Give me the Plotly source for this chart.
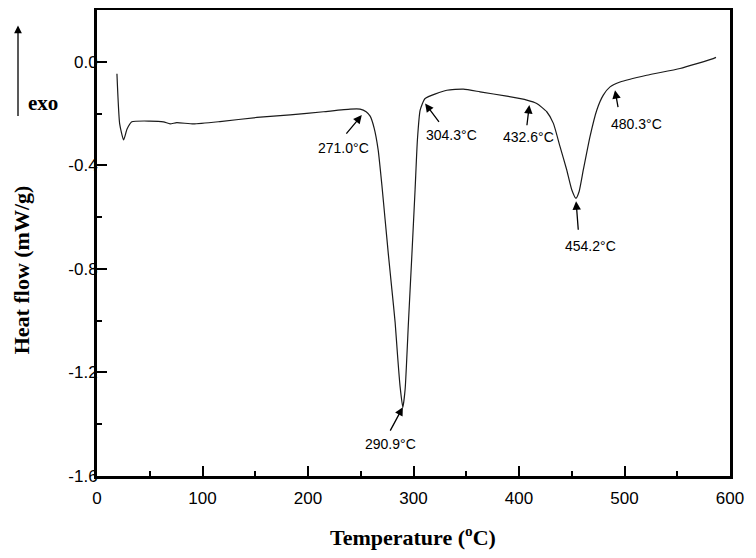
import plotly.graph_objects as go

# DSC curve: temperature (°C) and heat flow (mW/g)
temperature = [18.9, 21.5, 25.2, 28.5, 33.0, 50.0, 63.0, 69.3, 75.6, 91.5, 116.5, 151.6, 183.1,
               214.7, 240.0, 249.4, 255.1, 258.9, 262.7, 266.5, 270.0, 273.1, 276.2, 279.5,
               282.6, 284.8, 287.3, 289.9, 292.1, 295.2, 298.4, 301.5, 303.7, 306.3, 311.0,
               331.6, 347.3, 363.1, 388.4, 407.4, 416.8, 426.3, 432.6, 438.9, 445.2, 450.0,
               454.0, 457.0, 461.0, 467.3, 473.7, 479.9, 486.3, 495.8, 521.0, 552.6, 584.1,
               586.7]
heat_flow = [-0.046, -0.240, -0.302, -0.260, -0.232, -0.229, -0.232, -0.240, -0.235, -0.240,
             -0.231, -0.215, -0.205, -0.193, -0.183, -0.183, -0.193, -0.210, -0.256, -0.340,
             -0.475, -0.610, -0.745, -0.879, -1.007, -1.130, -1.255, -1.335, -1.263, -1.007,
             -0.751, -0.494, -0.302, -0.187, -0.142, -0.110, -0.106, -0.116, -0.133, -0.148,
             -0.161, -0.193, -0.238, -0.328, -0.417, -0.494, -0.527, -0.501, -0.417, -0.289,
             -0.187, -0.129, -0.097, -0.078, -0.052, -0.026, 0.012, 0.017]

# Peak / onset labels: arrow tip (x, y) and label position (x, y)
label_texts = ["271.0°C", "304.3°C", "432.6°C", "454.2°C", "480.3°C", "290.9°C"]
tip_x = [251.0, 311.0, 409.8, 454.1, 491.0, 289.9]
tip_y = [-0.206, -0.161, -0.167, -0.539, -0.110, -1.334]
text_x = [233.3, 336.3, 408.9, 468.0, 511.6, 277.9]
text_y = [-0.333, -0.283, -0.292, -0.712, -0.240, -1.475]
tail_dx = [-16.7, 15.0, -2.6, 2.3, 3.3, -13.4]
tail_dy = [20.0, 20.0, 21.7, 30.0, 18.3, 25.0]

x_tickvals = [0, 100, 200, 300, 400, 500, 600]
y_tickvals = [0.0, -0.4, -0.8, -1.2, -1.6]
y_ticktext = ["0.0", "-0.4", "-0.8", "-1.2", "-1.6"]

fig = go.Figure()
fig.add_trace(go.Scatter(x=temperature, y=heat_flow, mode="lines",
                         line=dict(color="#1a1a1a", width=1.2, shape="spline", smoothing=0.5),
                         showlegend=False, hoverinfo="skip"))

annotations = []
for t, tx, ty, lx, ly, dx, dy in zip(label_texts, tip_x, tip_y, text_x, text_y, tail_dx, tail_dy):
    annotations.append(dict(x=tx, y=ty, xref="x", yref="y", text="", showarrow=True,
                            ax=dx, ay=dy, arrowhead=2, arrowsize=1.3, arrowwidth=1.3,
                            arrowcolor="black", standoff=0, startstandoff=0))
    annotations.append(dict(x=lx, y=ly, xref="x", yref="y", text=t, showarrow=False,
                            font=dict(family="Liberation Sans, Arial", size=14, color="black")))

serif = "Liberation Serif, Times New Roman"
# exo arrow and label
annotations.append(dict(x=-0.1248, y=0.967, xref="paper", yref="paper", text="", showarrow=True,
                        ax=0, ay=92, arrowhead=2, arrowsize=1.2, arrowwidth=1.3, arrowcolor="black"))
annotations.append(dict(x=-0.112, y=0.80, xref="paper", yref="paper", text="<b>exo</b>",
                        showarrow=False, xanchor="left", yanchor="middle",
                        font=dict(family=serif, size=21, color="black")))
# axis titles
annotations.append(dict(x=0.499, y=-0.1286, xref="paper", yref="paper",
                        text="<b>Temperature (<sup>o</sup>C)</b>", showarrow=False,
                        xanchor="center", yanchor="middle",
                        font=dict(family=serif, size=22, color="black")))
annotations.append(dict(x=-0.120, y=0.4416, xref="paper", yref="paper",
                        text="<b>Heat flow (mW/g)</b>", showarrow=False, textangle=-90,
                        xanchor="center", yanchor="middle",
                        font=dict(family=serif, size=22, color="black")))

axis_common = dict(showgrid=False, zeroline=False, showline=True, linecolor="black", linewidth=3,
                   mirror=True, ticks="inside", ticklen=10, tickwidth=2, tickcolor="black",
                   tickfont=dict(family="Liberation Sans, Arial", size=17, color="black"))

fig.update_layout(
    width=748, height=550,
    margin=dict(l=89, r=26, t=2, b=82, autoexpand=False),
    paper_bgcolor="white", plot_bgcolor="white",
    xaxis=dict(range=[0, 600], tickvals=x_tickvals, ticklabelstandoff=5,
               minor=dict(dtick=50, ticks="inside", ticklen=5, tickwidth=2, tickcolor="black"),
               **axis_common),
    yaxis=dict(range=[-1.6, 0.2], tickvals=y_tickvals, ticktext=y_ticktext, ticklabelstandoff=-7,
               minor=dict(dtick=0.2, ticks="inside", ticklen=5, tickwidth=2, tickcolor="black"),
               **axis_common),
    annotations=annotations,
)

fig.write_html("out.html")
